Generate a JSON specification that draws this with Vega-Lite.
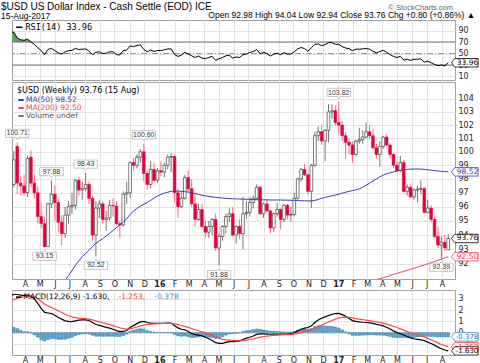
{
  "$schema": "https://vega.github.io/schema/vega-lite/v6.json",
  "padding": {"left": 1, "top": 1, "right": 0, "bottom": 0},
  "background": "white",
  "spacing": 0,
  "title": {
    "text": "$USD US Dollar Index - Cash Settle (EOD) ICE",
    "subtitle": "15-Aug-2017",
    "anchor": "start", "frame": "group", "dx": -11, "offset": -17,
    "font": "Liberation Sans", "fontSize": 10, "fontWeight": "normal", "color": "#000",
    "subtitleFont": "Liberation Sans", "subtitleFontSize": 8.5, "subtitleColor": "#000", "subtitlePadding": 0
  },
  "config": {
    "font": "DejaVu Sans",
    "view": {"stroke": "#a0a0a0"},
    "axis": {"labelFontSize": 8, "labelColor": "#222", "gridColor": "#e2e2e2", "domain": false, "ticks": false, "tickSize": 0, "title": null, "labelPadding": 3, "labelOverlap": false}
  },
  "datasets": {
    "w": [
      {"d":"2015-03-02","o":95.3,"h":97.7,"l":95.2,"c":97.6,"rsi":88,"macd":3.3,"sig":2.85,"hist":0.45},
      {"d":"2015-03-09","o":97.6,"h":100.05,"l":97.4,"c":99.4,"rsi":87,"macd":3.4,"sig":2.95,"hist":0.45},
      {"d":"2015-03-16","o":100.4,"h":100.71,"l":96.9,"c":97.7,"rsi":77,"macd":3.4,"sig":3.05,"hist":0.35},
      {"d":"2015-03-23","o":97.7,"h":98.2,"l":96.8,"c":97.5,"rsi":74,"macd":3.35,"sig":3.15,"hist":0.2},
      {"d":"2015-03-30","o":97.5,"h":98.3,"l":96.8,"c":97.0,"rsi":73,"macd":3.3,"sig":3.22,"hist":0.08},
      {"d":"2015-04-06","o":97.0,"h":99.7,"l":96.7,"c":99.5,"rsi":75,"macd":3.35,"sig":3.28,"hist":0.07},
      {"d":"2015-04-13","o":99.6,"h":100.1,"l":97.4,"c":97.7,"rsi":70,"macd":3.25,"sig":3.28,"hist":-0.03},
      {"d":"2015-04-20","o":97.7,"h":98.3,"l":96.6,"c":97.0,"rsi":66,"macd":3.0,"sig":3.2,"hist":-0.2},
      {"d":"2015-04-27","o":97.0,"h":97.4,"l":94.8,"c":95.3,"rsi":60,"macd":2.6,"sig":3.0,"hist":-0.4},
      {"d":"2015-05-04","o":95.3,"h":96.3,"l":94.5,"c":94.8,"rsi":55,"macd":2.15,"sig":2.8,"hist":-0.65},
      {"d":"2015-05-11","o":94.8,"h":95.3,"l":93.15,"c":93.2,"rsi":48,"macd":1.8,"sig":2.55,"hist":-0.75},
      {"d":"2015-05-18","o":93.2,"h":96.3,"l":93.2,"c":96.2,"rsi":57,"macd":1.75,"sig":2.38,"hist":-0.63},
      {"d":"2015-05-25","o":96.2,"h":97.88,"l":95.9,"c":96.9,"rsi":59,"macd":1.7,"sig":2.24,"hist":-0.54},
      {"d":"2015-06-01","o":96.9,"h":97.5,"l":95.0,"c":96.3,"rsi":55,"macd":1.55,"sig":2.1,"hist":-0.55},
      {"d":"2015-06-08","o":96.3,"h":96.5,"l":94.2,"c":94.9,"rsi":51,"macd":1.35,"sig":1.95,"hist":-0.6,"ma50":90.3},
      {"d":"2015-06-15","o":94.9,"h":95.4,"l":93.3,"c":94.1,"rsi":49,"macd":1.2,"sig":1.8,"hist":-0.6,"ma50":90.6},
      {"d":"2015-06-22","o":94.1,"h":96.0,"l":93.8,"c":95.4,"rsi":53,"macd":1.05,"sig":1.63,"hist":-0.58,"ma50":90.9},
      {"d":"2015-06-29","o":95.4,"h":96.4,"l":94.8,"c":96.0,"rsi":55,"macd":1.0,"sig":1.5,"hist":-0.5,"ma50":91.2},
      {"d":"2015-07-06","o":96.0,"h":97.0,"l":95.5,"c":96.1,"rsi":55.5,"macd":0.98,"sig":1.4,"hist":-0.42,"ma50":91.55},
      {"d":"2015-07-13","o":96.1,"h":98.0,"l":95.8,"c":97.9,"rsi":59,"macd":1.05,"sig":1.33,"hist":-0.28,"ma50":91.9},
      {"d":"2015-07-20","o":97.9,"h":98.15,"l":96.8,"c":97.2,"rsi":57,"macd":1.12,"sig":1.29,"hist":-0.17,"ma50":92.2},
      {"d":"2015-07-27","o":97.2,"h":97.8,"l":96.5,"c":97.3,"rsi":57.5,"macd":1.14,"sig":1.26,"hist":-0.12,"ma50":92.5},
      {"d":"2015-08-03","o":97.3,"h":98.43,"l":97.1,"c":97.6,"rsi":58,"macd":1.14,"sig":1.24,"hist":-0.1,"ma50":92.72},
      {"d":"2015-08-10","o":97.6,"h":97.8,"l":96.2,"c":96.6,"rsi":54,"macd":1.08,"sig":1.2,"hist":-0.12,"ma50":92.95},
      {"d":"2015-08-17","o":96.6,"h":96.8,"l":93.6,"c":94.0,"rsi":48,"macd":0.9,"sig":1.13,"hist":-0.23,"ma50":93.2},
      {"d":"2015-08-24","o":94.0,"h":96.4,"l":92.52,"c":95.9,"rsi":52,"macd":0.72,"sig":1.05,"hist":-0.33,"ma50":93.42},
      {"d":"2015-08-31","o":95.9,"h":96.5,"l":95.2,"c":96.2,"rsi":53,"macd":0.65,"sig":0.96,"hist":-0.31,"ma50":93.6},
      {"d":"2015-09-07","o":96.2,"h":96.4,"l":94.8,"c":95.1,"rsi":50,"macd":0.55,"sig":0.88,"hist":-0.33,"ma50":93.75},
      {"d":"2015-09-14","o":95.1,"h":95.7,"l":94.3,"c":95.2,"rsi":50.5,"macd":0.47,"sig":0.8,"hist":-0.33,"ma50":93.93},
      {"d":"2015-09-21","o":95.2,"h":96.5,"l":95.0,"c":96.1,"rsi":53,"macd":0.4,"sig":0.72,"hist":-0.32,"ma50":94.12},
      {"d":"2015-09-28","o":96.1,"h":96.6,"l":95.3,"c":96.05,"rsi":53,"macd":0.3,"sig":0.62,"hist":-0.32,"ma50":94.32},
      {"d":"2015-10-05","o":96.05,"h":96.4,"l":94.7,"c":94.8,"rsi":48,"macd":0.18,"sig":0.52,"hist":-0.34,"ma50":94.52},
      {"d":"2015-10-12","o":94.8,"h":95.0,"l":93.8,"c":94.7,"rsi":47.5,"macd":0.08,"sig":0.43,"hist":-0.35,"ma50":94.72},
      {"d":"2015-10-19","o":94.7,"h":97.1,"l":94.6,"c":96.9,"rsi":55,"macd":0.1,"sig":0.36,"hist":-0.26,"ma50":94.9},
      {"d":"2015-10-26","o":96.9,"h":97.8,"l":96.2,"c":97.0,"rsi":56,"macd":0.18,"sig":0.32,"hist":-0.14,"ma50":95.15},
      {"d":"2015-11-02","o":97.0,"h":99.3,"l":96.6,"c":99.2,"rsi":63,"macd":0.45,"sig":0.35,"hist":0.1,"ma50":95.45},
      {"d":"2015-11-09","o":99.2,"h":99.5,"l":98.6,"c":99.0,"rsi":62,"macd":0.62,"sig":0.41,"hist":0.21,"ma50":95.7},
      {"d":"2015-11-16","o":99.0,"h":99.8,"l":98.8,"c":99.6,"rsi":64,"macd":0.8,"sig":0.5,"hist":0.3,"ma50":95.88},
      {"d":"2015-11-23","o":99.6,"h":100.2,"l":99.2,"c":100.0,"rsi":65,"macd":0.95,"sig":0.6,"hist":0.35,"ma50":96.05},
      {"d":"2015-11-30","o":100.0,"h":100.6,"l":97.8,"c":98.4,"rsi":57,"macd":1.0,"sig":0.68,"hist":0.32,"ma50":96.17},
      {"d":"2015-12-07","o":98.4,"h":98.6,"l":97.2,"c":97.6,"rsi":53,"macd":0.9,"sig":0.73,"hist":0.17,"ma50":96.3},
      {"d":"2015-12-14","o":97.6,"h":99.3,"l":97.3,"c":98.7,"rsi":56,"macd":0.85,"sig":0.76,"hist":0.09,"ma50":96.45},
      {"d":"2015-12-21","o":98.7,"h":99.2,"l":97.8,"c":97.9,"rsi":53.5,"macd":0.83,"sig":0.78,"hist":0.05,"ma50":96.62},
      {"d":"2015-12-28","o":97.9,"h":98.8,"l":97.7,"c":98.6,"rsi":55.5,"macd":0.82,"sig":0.8,"hist":0.02,"ma50":96.77},
      {"d":"2016-01-04","o":98.6,"h":99.3,"l":98.2,"c":98.5,"rsi":55,"macd":0.82,"sig":0.8,"hist":0.02,"ma50":96.88},
      {"d":"2016-01-11","o":98.5,"h":99.2,"l":98.1,"c":99.0,"rsi":56.5,"macd":0.83,"sig":0.81,"hist":0.02,"ma50":96.97},
      {"d":"2016-01-18","o":99.0,"h":99.8,"l":98.7,"c":99.6,"rsi":58,"macd":0.85,"sig":0.82,"hist":0.03,"ma50":97.04},
      {"d":"2016-01-25","o":99.6,"h":99.9,"l":98.5,"c":99.65,"rsi":58,"macd":0.85,"sig":0.82,"hist":0.03,"ma50":97.1},
      {"d":"2016-02-01","o":99.65,"h":99.8,"l":96.3,"c":97.0,"rsi":48,"macd":0.62,"sig":0.78,"hist":-0.16,"ma50":97.12},
      {"d":"2016-02-08","o":97.0,"h":97.3,"l":95.2,"c":96.0,"rsi":45,"macd":0.42,"sig":0.71,"hist":-0.29,"ma50":97.12},
      {"d":"2016-02-15","o":96.0,"h":97.1,"l":95.9,"c":96.6,"rsi":47,"macd":0.3,"sig":0.63,"hist":-0.33,"ma50":97.1},
      {"d":"2016-02-22","o":96.6,"h":98.3,"l":96.5,"c":98.1,"rsi":52,"macd":0.25,"sig":0.56,"hist":-0.31,"ma50":97.08},
      {"d":"2016-02-29","o":98.1,"h":98.6,"l":97.1,"c":97.3,"rsi":49,"macd":0.1,"sig":0.47,"hist":-0.37,"ma50":97.05},
      {"d":"2016-03-07","o":97.3,"h":98.0,"l":96.0,"c":96.2,"rsi":46,"macd":-0.08,"sig":0.36,"hist":-0.44,"ma50":97.0},
      {"d":"2016-03-14","o":96.2,"h":97.0,"l":94.6,"c":95.1,"rsi":43,"macd":-0.18,"sig":0.25,"hist":-0.43,"ma50":96.95},
      {"d":"2016-03-21","o":95.1,"h":96.2,"l":95.0,"c":95.8,"rsi":45.5,"macd":-0.22,"sig":0.16,"hist":-0.38,"ma50":96.88},
      {"d":"2016-03-28","o":95.8,"h":96.2,"l":94.5,"c":94.6,"rsi":42,"macd":-0.28,"sig":0.07,"hist":-0.35,"ma50":96.82},
      {"d":"2016-04-04","o":94.6,"h":95.0,"l":93.8,"c":94.2,"rsi":41,"macd":-0.42,"sig":-0.03,"hist":-0.39,"ma50":96.78},
      {"d":"2016-04-11","o":94.2,"h":95.0,"l":93.8,"c":94.6,"rsi":43,"macd":-0.55,"sig":-0.14,"hist":-0.41,"ma50":96.74},
      {"d":"2016-04-18","o":94.6,"h":95.2,"l":94.0,"c":95.1,"rsi":45,"macd":-0.7,"sig":-0.25,"hist":-0.45,"ma50":96.7},
      {"d":"2016-04-25","o":95.1,"h":95.5,"l":92.9,"c":93.1,"rsi":38,"macd":-0.9,"sig":-0.38,"hist":-0.52,"ma50":96.67},
      {"d":"2016-05-02","o":93.1,"h":94.1,"l":91.88,"c":93.9,"rsi":41,"macd":-0.96,"sig":-0.5,"hist":-0.46,"ma50":96.64},
      {"d":"2016-05-09","o":93.9,"h":94.7,"l":93.6,"c":94.6,"rsi":43,"macd":-0.96,"sig":-0.59,"hist":-0.37,"ma50":96.62},
      {"d":"2016-05-16","o":94.6,"h":95.5,"l":94.1,"c":95.3,"rsi":46,"macd":-0.88,"sig":-0.65,"hist":-0.23,"ma50":96.6},
      {"d":"2016-05-23","o":95.3,"h":95.9,"l":94.9,"c":95.5,"rsi":47,"macd":-0.8,"sig":-0.68,"hist":-0.12,"ma50":96.58},
      {"d":"2016-05-30","o":95.5,"h":96.0,"l":93.9,"c":94.0,"rsi":42,"macd":-0.8,"sig":-0.71,"hist":-0.09,"ma50":96.57},
      {"d":"2016-06-06","o":94.0,"h":94.7,"l":93.4,"c":94.6,"rsi":44,"macd":-0.78,"sig":-0.72,"hist":-0.06,"ma50":96.56},
      {"d":"2016-06-13","o":94.6,"h":95.1,"l":93.7,"c":94.1,"rsi":43,"macd":-0.74,"sig":-0.73,"hist":-0.01,"ma50":96.55},
      {"d":"2016-06-20","o":94.1,"h":96.7,"l":93.0,"c":95.5,"rsi":48,"macd":-0.62,"sig":-0.71,"hist":0.09,"ma50":96.54},
      {"d":"2016-06-27","o":95.5,"h":96.4,"l":95.1,"c":95.6,"rsi":49,"macd":-0.5,"sig":-0.67,"hist":0.17,"ma50":96.53},
      {"d":"2016-07-04","o":95.6,"h":96.7,"l":95.3,"c":96.3,"rsi":52,"macd":-0.42,"sig":-0.62,"hist":0.2,"ma50":96.52},
      {"d":"2016-07-11","o":96.3,"h":96.8,"l":95.9,"c":96.6,"rsi":53.5,"macd":-0.3,"sig":-0.56,"hist":0.26,"ma50":96.51},
      {"d":"2016-07-18","o":96.6,"h":97.6,"l":96.5,"c":97.4,"rsi":57,"macd":-0.16,"sig":-0.48,"hist":0.32,"ma50":96.5},
      {"d":"2016-07-25","o":97.4,"h":97.5,"l":95.4,"c":95.5,"rsi":49.5,"macd":-0.12,"sig":-0.41,"hist":0.29,"ma50":96.5},
      {"d":"2016-08-01","o":95.5,"h":96.3,"l":95.2,"c":96.2,"rsi":52,"macd":-0.12,"sig":-0.35,"hist":0.23,"ma50":96.49},
      {"d":"2016-08-08","o":96.2,"h":96.5,"l":95.6,"c":95.7,"rsi":50,"macd":-0.13,"sig":-0.31,"hist":0.18,"ma50":96.49},
      {"d":"2016-08-15","o":95.7,"h":95.8,"l":94.1,"c":94.5,"rsi":45.5,"macd":-0.15,"sig":-0.28,"hist":0.13,"ma50":96.48},
      {"d":"2016-08-22","o":94.5,"h":95.6,"l":94.2,"c":95.5,"rsi":49,"macd":-0.14,"sig":-0.25,"hist":0.11,"ma50":96.48},
      {"d":"2016-08-29","o":95.5,"h":96.3,"l":95.3,"c":95.8,"rsi":50.5,"macd":-0.13,"sig":-0.23,"hist":0.1,"ma50":96.48},
      {"d":"2016-09-05","o":95.8,"h":95.9,"l":94.4,"c":95.1,"rsi":48,"macd":-0.14,"sig":-0.21,"hist":0.07,"ma50":96.48},
      {"d":"2016-09-12","o":95.1,"h":96.2,"l":94.9,"c":96.1,"rsi":51.5,"macd":-0.13,"sig":-0.19,"hist":0.06,"ma50":96.47},
      {"d":"2016-09-19","o":96.1,"h":96.2,"l":95.1,"c":95.4,"rsi":49,"macd":-0.13,"sig":-0.18,"hist":0.05,"ma50":96.47},
      {"d":"2016-09-26","o":95.4,"h":96.0,"l":94.9,"c":95.45,"rsi":49,"macd":-0.1,"sig":-0.16,"hist":0.06,"ma50":96.46},
      {"d":"2016-10-03","o":95.45,"h":97.0,"l":95.3,"c":96.6,"rsi":53,"macd":-0.02,"sig":-0.13,"hist":0.11,"ma50":96.45},
      {"d":"2016-10-10","o":96.6,"h":98.1,"l":96.5,"c":98.0,"rsi":58,"macd":0.15,"sig":-0.07,"hist":0.22,"ma50":96.44},
      {"d":"2016-10-17","o":98.0,"h":98.8,"l":97.8,"c":98.7,"rsi":60.5,"macd":0.3,"sig":0.0,"hist":0.3,"ma50":96.43},
      {"d":"2016-10-24","o":98.7,"h":99.1,"l":98.2,"c":98.3,"rsi":58.5,"macd":0.4,"sig":0.08,"hist":0.32,"ma50":96.42},
      {"d":"2016-10-31","o":98.3,"h":98.4,"l":96.9,"c":97.1,"rsi":54,"macd":0.45,"sig":0.15,"hist":0.3,"ma50":96.41},
      {"d":"2016-11-07","o":97.1,"h":99.1,"l":95.9,"c":99.0,"rsi":60,"macd":0.6,"sig":0.24,"hist":0.36,"ma50":96.41},
      {"d":"2016-11-14","o":99.0,"h":101.5,"l":98.9,"c":101.2,"rsi":66,"macd":0.9,"sig":0.37,"hist":0.53,"ma50":96.45},
      {"d":"2016-11-21","o":101.2,"h":101.9,"l":100.8,"c":101.5,"rsi":66.5,"macd":1.12,"sig":0.52,"hist":0.6,"ma50":96.52},
      {"d":"2016-11-28","o":101.5,"h":102.0,"l":100.5,"c":100.8,"rsi":63.5,"macd":1.28,"sig":0.67,"hist":0.61,"ma50":96.6},
      {"d":"2016-12-05","o":100.8,"h":101.7,"l":99.3,"c":101.6,"rsi":65.5,"macd":1.4,"sig":0.81,"hist":0.59,"ma50":96.66},
      {"d":"2016-12-12","o":101.6,"h":103.6,"l":100.7,"c":103.0,"rsi":69,"macd":1.52,"sig":0.95,"hist":0.57,"ma50":96.72},
      {"d":"2016-12-19","o":103.0,"h":103.6,"l":102.5,"c":103.1,"rsi":69,"macd":1.62,"sig":1.08,"hist":0.54,"ma50":96.78},
      {"d":"2016-12-26","o":103.1,"h":103.5,"l":102.0,"c":102.2,"rsi":66,"macd":1.7,"sig":1.2,"hist":0.5,"ma50":96.84},
      {"d":"2017-01-02","o":102.2,"h":103.82,"l":101.4,"c":102.0,"rsi":66,"macd":1.71,"sig":1.3,"hist":0.41,"ma50":96.9},
      {"d":"2017-01-09","o":102.0,"h":102.3,"l":100.8,"c":101.2,"rsi":62,"macd":1.6,"sig":1.36,"hist":0.24,"ma50":96.97},
      {"d":"2017-01-16","o":101.2,"h":101.5,"l":99.5,"c":100.7,"rsi":59.5,"macd":1.45,"sig":1.38,"hist":0.07,"ma50":97.04},
      {"d":"2017-01-23","o":100.7,"h":101.0,"l":99.8,"c":100.5,"rsi":58.5,"macd":1.25,"sig":1.36,"hist":-0.11,"ma50":97.1},
      {"d":"2017-01-30","o":100.5,"h":100.8,"l":99.2,"c":99.8,"rsi":55,"macd":1.07,"sig":1.31,"hist":-0.24,"ma50":97.15},
      {"d":"2017-02-06","o":99.8,"h":100.9,"l":99.7,"c":100.8,"rsi":57.5,"macd":1.0,"sig":1.25,"hist":-0.25,"ma50":97.2},
      {"d":"2017-02-13","o":100.8,"h":101.8,"l":100.6,"c":100.9,"rsi":57.5,"macd":0.95,"sig":1.2,"hist":-0.25,"ma50":97.28},
      {"d":"2017-02-20","o":100.9,"h":101.6,"l":100.6,"c":101.1,"rsi":58,"macd":0.92,"sig":1.15,"hist":-0.23,"ma50":97.4},
      {"d":"2017-02-27","o":101.1,"h":102.2,"l":101.0,"c":101.5,"rsi":59,"macd":0.9,"sig":1.11,"hist":-0.21,"ma50":97.55},
      {"d":"2017-03-06","o":101.5,"h":102.0,"l":101.0,"c":101.2,"rsi":57.5,"macd":0.86,"sig":1.06,"hist":-0.2,"ma50":97.68},
      {"d":"2017-03-13","o":101.2,"h":101.7,"l":100.2,"c":100.3,"rsi":54,"macd":0.82,"sig":1.01,"hist":-0.19,"ma50":97.85,"ma200":90.86},
      {"d":"2017-03-20","o":100.3,"h":100.6,"l":99.5,"c":99.8,"rsi":51,"macd":0.74,"sig":0.96,"hist":-0.22,"ma50":98.0,"ma200":90.93},
      {"d":"2017-03-27","o":99.8,"h":100.8,"l":98.9,"c":100.4,"rsi":53.5,"macd":0.68,"sig":0.9,"hist":-0.22,"ma50":98.15,"ma200":91.0},
      {"d":"2017-04-03","o":100.4,"h":101.2,"l":100.2,"c":101.1,"rsi":55.5,"macd":0.6,"sig":0.84,"hist":-0.24,"ma50":98.28,"ma200":91.07},
      {"d":"2017-04-10","o":101.1,"h":101.3,"l":100.4,"c":100.5,"rsi":52,"macd":0.48,"sig":0.76,"hist":-0.28,"ma50":98.38,"ma200":91.14},
      {"d":"2017-04-17","o":100.5,"h":100.7,"l":99.5,"c":99.8,"rsi":48,"macd":0.32,"sig":0.67,"hist":-0.35,"ma50":98.45,"ma200":91.21},
      {"d":"2017-04-24","o":99.8,"h":99.9,"l":98.8,"c":99.0,"rsi":45,"macd":0.15,"sig":0.57,"hist":-0.42,"ma50":98.52,"ma200":91.29},
      {"d":"2017-05-01","o":99.0,"h":99.3,"l":98.5,"c":98.6,"rsi":43,"macd":0.0,"sig":0.45,"hist":-0.45,"ma50":98.58,"ma200":91.36},
      {"d":"2017-05-08","o":98.6,"h":99.7,"l":98.5,"c":99.2,"rsi":45,"macd":-0.1,"sig":0.34,"hist":-0.44,"ma50":98.63,"ma200":91.43},
      {"d":"2017-05-15","o":99.2,"h":99.4,"l":97.0,"c":97.1,"rsi":38.5,"macd":-0.22,"sig":0.22,"hist":-0.44,"ma50":98.67,"ma200":91.5},
      {"d":"2017-05-22","o":97.1,"h":97.6,"l":96.8,"c":97.4,"rsi":40,"macd":-0.35,"sig":0.1,"hist":-0.45,"ma50":98.7,"ma200":91.57},
      {"d":"2017-05-29","o":97.4,"h":97.6,"l":96.6,"c":96.7,"rsi":38,"macd":-0.47,"sig":-0.02,"hist":-0.45,"ma50":98.72,"ma200":91.64},
      {"d":"2017-06-05","o":96.7,"h":97.3,"l":96.5,"c":97.2,"rsi":40,"macd":-0.55,"sig":-0.12,"hist":-0.43,"ma50":98.73,"ma200":91.71},
      {"d":"2017-06-12","o":97.2,"h":97.5,"l":96.3,"c":97.25,"rsi":40,"macd":-0.6,"sig":-0.22,"hist":-0.38,"ma50":98.73,"ma200":91.79},
      {"d":"2017-06-19","o":97.25,"h":97.9,"l":96.9,"c":97.3,"rsi":40.5,"macd":-0.65,"sig":-0.31,"hist":-0.34,"ma50":98.72,"ma200":91.86},
      {"d":"2017-06-26","o":97.3,"h":97.4,"l":95.5,"c":95.6,"rsi":35,"macd":-0.72,"sig":-0.39,"hist":-0.33,"ma50":98.7,"ma200":91.93},
      {"d":"2017-07-03","o":95.6,"h":96.5,"l":95.5,"c":95.9,"rsi":36.5,"macd":-0.85,"sig":-0.52,"hist":-0.33,"ma50":98.67,"ma200":92.01},
      {"d":"2017-07-10","o":95.9,"h":96.1,"l":94.9,"c":95.1,"rsi":34,"macd":-0.98,"sig":-0.64,"hist":-0.34,"ma50":98.64,"ma200":92.09},
      {"d":"2017-07-17","o":95.1,"h":95.3,"l":93.8,"c":93.9,"rsi":31,"macd":-1.12,"sig":-0.77,"hist":-0.35,"ma50":98.61,"ma200":92.17},
      {"d":"2017-07-24","o":93.9,"h":94.6,"l":93.1,"c":93.3,"rsi":29,"macd":-1.3,"sig":-0.92,"hist":-0.38,"ma50":98.58,"ma200":92.25},
      {"d":"2017-07-31","o":93.3,"h":93.9,"l":92.39,"c":93.5,"rsi":30,"macd":-1.44,"sig":-1.06,"hist":-0.38,"ma50":98.56,"ma200":92.33},
      {"d":"2017-08-07","o":93.5,"h":94.0,"l":92.9,"c":93.1,"rsi":28.5,"macd":-1.55,"sig":-1.17,"hist":-0.38,"ma50":98.54,"ma200":92.42},
      {"d":"2017-08-14","o":92.98,"h":94.04,"l":92.94,"c":93.76,"rsi":33.96,"macd":-1.63,"sig":-1.253,"hist":-0.378,"ma50":98.52,"ma200":92.5}
    ],
    "highs": [
      {"d":"2015-03-16","v":100.71,"t":"100.71"},
      {"d":"2015-05-25","v":97.88,"t":"97.88"},
      {"d":"2015-08-03","v":98.43,"t":"98.43"},
      {"d":"2015-11-30","v":100.6,"t":"100.60"},
      {"d":"2017-01-02","v":103.82,"t":"103.82"}
    ],
    "lows": [
      {"d":"2015-05-11","v":93.15,"t":"93.15"},
      {"d":"2015-08-24","v":92.52,"t":"92.52"},
      {"d":"2016-05-02","v":91.88,"t":"91.88"},
      {"d":"2017-07-31","v":92.39,"t":"92.39"}
    ]
  },
  "vconcat": [
    {
      "title": {
        "text": "Open 92.98  High 94.04  Low 92.94  Close 93.76  Chg +0.80 (+0.86%) ▲",
        "anchor": "end", "frame": "bounds", "dx": -5, "offset": -16,
        "font": "Liberation Sans", "fontSize": 8.5, "fontWeight": "normal", "color": "#000"
      },
      "vconcat": [
        {
          "width": 443, "height": 60,
          "title": {
            "text": "© StockCharts.com",
            "anchor": "end", "frame": "group", "dx": -2, "offset": 9,
            "font": "Liberation Sans", "fontSize": 7.5, "fontWeight": "normal", "color": "#666"
          },
          "layer": [
            {
              "data": {"name": "w"},
              "transform": [{"filter": "datum.rsi >= 70"}],
              "mark": {"type": "area", "color": "#5f9f5f", "clip": true},
              "encoding": {
                "x": {"field": "d", "type": "temporal",
                      "scale": {"domain": [{"year": 2015, "month": 3, "date": 5, "hours": 6, "minutes": 30}, {"year": 2017, "month": 8, "date": 27, "hours": 21}], "padding": 0},
                      "axis": {"labels": false, "grid": true, "tickCount": {"interval": "month", "step": 1}}},
                "y": {"field": "rsi", "type": "quantitative", "scale": {"domain": [3.9, 108.3], "nice": false, "zero": false},
                      "axis": {"orient": "right", "values": [10, 30, 50, 70, 90], "tickCount": 10, "format": "d", "grid": true, "labelOverlap": false}},
                "y2": {"datum": 70}
              }
            },
            {
              "data": {"name": "w"},
              "transform": [{"filter": "datum.rsi <= 30"}],
              "mark": {"type": "area", "color": "#e0606e", "clip": true},
              "encoding": {
                "x": {"field": "d", "type": "temporal"},
                "y": {"field": "rsi", "type": "quantitative"},
                "y2": {"datum": 30}
              }
            },
            {
              "data": {"values": [{"rsi": 30}, {"rsi": 70}]},
              "mark": {"type": "rule", "color": "#777", "strokeWidth": 1},
              "encoding": {"y": {"field": "rsi", "type": "quantitative"}}
            },
            {
              "data": {"values": [{"rsi": 50}]},
              "mark": {"type": "rule", "color": "#999", "strokeDash": [6, 2, 1, 2]},
              "encoding": {"y": {"field": "rsi", "type": "quantitative"}}
            },
            {
              "data": {"name": "w"},
              "mark": {"type": "line", "strokeWidth": 1, "clip": true},
              "encoding": {
                "x": {"field": "d", "type": "temporal"},
                "y": {"field": "rsi", "type": "quantitative"},
                "color": {"datum": "rsi", "scale": {"domain": ["rsi"], "range": ["#000000"]},
                          "legend": {"orient": "top-left", "title": null, "labelExpr": "'RSI(14) 33.96'", "symbolType": "stroke", "symbolSize": 40, "symbolStrokeWidth": 1.5, "labelFont": "DejaVu Sans Mono", "labelFontSize": 8.5, "labelColor": "#000", "offset": 2, "padding": 1, "labelOffset": 2}}
              }
            },
            {
              "data": {"values": [{"rsi": 33.96, "t": "33.96"}]},
              "mark": {"type": "point", "shape": "M0.5,0L1,-0.65L4.6,-0.65L4.6,0.65L1,0.65Z", "size": 169, "filled": true, "fill": "white", "stroke": "#000", "strokeWidth": 0.8, "opacity": 1},
              "encoding": {"x": {"datum": {"year": 2017, "month": 8, "date": 14}, "type": "temporal"}, "y": {"field": "rsi", "type": "quantitative"}}
            },
            {
              "data": {"values": [{"rsi": 33.96, "t": "33.96"}]},
              "mark": {"type": "text", "align": "left", "baseline": "middle", "dx": 8.5, "fontSize": 7.5, "color": "#000"},
              "encoding": {"x": {"datum": {"year": 2017, "month": 8, "date": 14}, "type": "temporal"}, "y": {"field": "rsi", "type": "quantitative"}, "text": {"field": "t"}}
            }
          ]
        }
      ]
    },
    {
      "width": 443, "height": 197,
      "layer": [
        {
          "data": {"name": "w"},
          "mark": {"type": "rule", "strokeWidth": 1, "clip": true},
          "encoding": {
            "x": {"field": "d", "type": "temporal",
                  "scale": {"domain": [{"year": 2015, "month": 3, "date": 5, "hours": 6, "minutes": 30}, {"year": 2017, "month": 8, "date": 27, "hours": 21}], "padding": 0},
                  "axis": {"orient": "bottom", "grid": true, "tickCount": {"interval": "month", "step": 1}, "labelPadding": 1, "labelFlush": false, "labelOverlap": false,
                           "labelExpr": "month(datum.value) == 0 ? timeFormat(datum.value, '%y') : substring(timeFormat(datum.value, '%b'), 0, 1)",
                           "labelFontWeight": {"condition": {"test": "month(datum.value) == 0", "value": "bold"}, "value": "normal"}}},
            "y": {"field": "l", "type": "quantitative", "scale": {"type": "log", "domain": [90.98, 105.32], "nice": false},
                  "axis": {"orient": "right", "values": [92, 93, 94, 95, 96, 97, 98, 99, 100, 101, 102, 103, 104], "tickCount": 20, "format": "d", "grid": true, "labelOverlap": false}},
            "y2": {"field": "h"},
            "color": {"condition": {"test": "datum.c >= datum.o", "value": "#777777"}, "value": "#f0708a"}
          }
        },
        {
          "data": {"name": "w"},
          "mark": {"type": "bar", "width": 2.7, "strokeWidth": 0.6, "clip": true},
          "encoding": {
            "x": {"field": "d", "type": "temporal"},
            "y": {"field": "o", "type": "quantitative"},
            "y2": {"field": "c"},
            "fill": {"condition": {"test": "datum.c >= datum.o", "value": "#ffffff"}, "value": "#e4003c"},
            "stroke": {"condition": {"test": "datum.c >= datum.o", "value": "#222222"}, "value": "#e4003c"}
          }
        },
        {
          "data": {"name": "w"},
          "transform": [{"fold": ["ma50", "ma200"], "as": ["key", "val"]}, {"filter": "isValid(datum.val)"}],
          "mark": {"type": "line", "strokeWidth": 1, "clip": true},
          "encoding": {
            "x": {"field": "d", "type": "temporal"},
            "y": {"field": "val", "type": "quantitative"},
            "color": {"field": "key", "type": "nominal",
                      "scale": {"domain": ["ma50", "ma200", "vol"], "range": ["#3b3bb0", "#e8425e", "#777777"]},
                      "legend": {"orient": "top-left", "title": "$USD (Weekly) 93.76 (15 Aug)", "titleFont": "DejaVu Sans", "titleFontSize": 8, "titleFontWeight": "normal", "titleColor": "#000", "titlePadding": 1,
                                 "labelExpr": "datum.value === 'ma50' ? 'MA(50) 98.52' : datum.value === 'ma200' ? 'MA(200) 92.50' : 'Volume undef'",
                                 "symbolType": "stroke", "symbolSize": 30, "symbolStrokeWidth": 2, "labelFontSize": 7.5, "labelOffset": 1, "rowPadding": 0, "offset": 4, "padding": 1,
                                 "encode": {"labels": {"update": {"fill": {"signal": "datum.value === 'ma50' ? '#3b3bb0' : datum.value === 'ma200' ? '#e8425e' : '#555555'"}}}}}}
          }
        },
        {
          "data": {"name": "highs"},
          "mark": {"type": "point", "shape": "M-1.8,-2L1.8,-2L1.8,-0.75L0.2,-0.75L0,-0.45L-0.2,-0.75L-1.8,-0.75Z", "size": 169, "filled": true, "fill": "white", "stroke": "#aaaaaa", "strokeWidth": 0.7, "opacity": 1},
          "encoding": {"x": {"field": "d", "type": "temporal"}, "y": {"field": "v", "type": "quantitative"}}
        },
        {
          "data": {"name": "highs"},
          "mark": {"type": "text", "baseline": "middle", "dy": -8.8, "font": "Liberation Sans", "fontSize": 7, "color": "#333"},
          "encoding": {"x": {"field": "d", "type": "temporal"}, "y": {"field": "v", "type": "quantitative"}, "text": {"field": "t"}}
        },
        {
          "data": {"name": "lows"},
          "mark": {"type": "point", "shape": "M-1.8,2L1.8,2L1.8,0.75L0.2,0.75L0,0.45L-0.2,0.75L-1.8,0.75Z", "size": 169, "filled": true, "fill": "white", "stroke": "#aaaaaa", "strokeWidth": 0.7, "opacity": 1},
          "encoding": {"x": {"field": "d", "type": "temporal"}, "y": {"field": "v", "type": "quantitative"}}
        },
        {
          "data": {"name": "lows"},
          "mark": {"type": "text", "baseline": "middle", "dy": 8.8, "font": "Liberation Sans", "fontSize": 7, "color": "#333"},
          "encoding": {"x": {"field": "d", "type": "temporal"}, "y": {"field": "v", "type": "quantitative"}, "text": {"field": "t"}}
        },
        {
          "data": {"values": [{"v": 98.52, "t": "98.52", "s": "ma50"}, {"v": 93.76, "t": "93.76", "s": "px"}, {"v": 92.5, "t": "92.50", "s": "ma200"}]},
          "mark": {"type": "point", "shape": "M0.5,0L1,-0.65L4.6,-0.65L4.6,0.65L1,0.65Z", "size": 169, "filled": true, "fill": "white", "strokeWidth": 0.8, "opacity": 1},
          "encoding": {
            "x": {"datum": {"year": 2017, "month": 8, "date": 14}, "type": "temporal"},
            "y": {"field": "v", "type": "quantitative"},
            "stroke": {"condition": [{"test": "datum.s === 'ma50'", "value": "#3b3bb0"}, {"test": "datum.s === 'ma200'", "value": "#e8425e"}], "value": "#000000"}
          }
        },
        {
          "data": {"values": [{"v": 98.52, "t": "98.52", "s": "ma50"}, {"v": 93.76, "t": "93.76", "s": "px"}, {"v": 92.5, "t": "92.50", "s": "ma200"}]},
          "mark": {"type": "text", "align": "left", "baseline": "middle", "dx": 8.5, "fontSize": 7.5},
          "encoding": {
            "x": {"datum": {"year": 2017, "month": 8, "date": 14}, "type": "temporal"},
            "y": {"field": "v", "type": "quantitative"},
            "text": {"field": "t"},
            "color": {"condition": [{"test": "datum.s === 'ma50'", "value": "#3b3bb0"}, {"test": "datum.s === 'ma200'", "value": "#e8425e"}], "value": "#000000"}
          }
        }
      ]
    },
    {
      "width": 443, "height": 65,
      "layer": [
        {
          "data": {"name": "w"},
          "mark": {"type": "bar", "width": 2.7, "stroke": "#2e6c99", "strokeWidth": 0.5, "clip": true},
          "encoding": {
            "x": {"field": "d", "type": "temporal",
                  "scale": {"domain": [{"year": 2015, "month": 3, "date": 5, "hours": 6, "minutes": 30}, {"year": 2017, "month": 8, "date": 27, "hours": 21}], "padding": 0},
                  "axis": {"orient": "bottom", "grid": true, "tickCount": {"interval": "month", "step": 1}, "labelPadding": 1, "labelFlush": false, "labelOverlap": false,
                           "labelExpr": "month(datum.value) == 0 ? timeFormat(datum.value, '%y') : substring(timeFormat(datum.value, '%b'), 0, 1)",
                           "labelFontWeight": {"condition": {"test": "month(datum.value) == 0", "value": "bold"}, "value": "normal"}}},
            "y": {"field": "hist", "type": "quantitative", "scale": {"domain": [-2.0, 3.8], "nice": false, "zero": false},
                  "axis": {"orient": "right", "values": [-1, 0, 1, 2, 3], "tickCount": 10, "format": "d", "grid": true, "labelOverlap": false}},
            "y2": {"datum": 0},
            "color": {"datum": "hist"}
          }
        },
        {
          "data": {"name": "w"},
          "transform": [{"fold": ["macd", "sig"], "as": ["key", "hist"]}],
          "mark": {"type": "line", "strokeWidth": 1.2, "clip": true},
          "encoding": {
            "x": {"field": "d", "type": "temporal"},
            "y": {"field": "hist", "type": "quantitative"},
            "color": {"field": "key", "type": "nominal",
                      "scale": {"domain": ["macd", "sig", "hist"], "range": ["#000000", "#ff4444", "#5ea9da"]},
                      "legend": {"orient": "top-left", "direction": "horizontal", "title": null,
                                 "labelExpr": "datum.value === 'macd' ? 'MACD(12,26,9) -1.630,' : datum.value === 'sig' ? '-1.253,' : '-0.378'",
                                 "symbolType": "stroke", "symbolSize": 30, "symbolStrokeWidth": 1.5, "labelFontSize": 7.5, "labelOffset": 1, "columnPadding": -6, "offset": 2, "padding": 1,
                                 "encode": {"symbols": {"update": {"opacity": {"signal": "datum.value === 'macd' ? 1 : 0"}}},
                                            "labels": {"update": {"fill": {"signal": "datum.value === 'macd' ? '#000000' : datum.value === 'sig' ? '#ff3333' : '#3399cc'"}}}}}}
          }
        },
        {
          "data": {"values": [{"hist": -0.378, "t": "-0.378", "s": "hist"}, {"hist": -1.253, "t": "-1.253", "s": "sig"}, {"hist": -1.63, "t": "-1.630", "s": "macd"}]},
          "mark": {"type": "point", "shape": "M0.5,0L1,-0.65L4.6,-0.65L4.6,0.65L1,0.65Z", "size": 169, "filled": true, "fill": "white", "strokeWidth": 0.8, "opacity": 1},
          "encoding": {
            "x": {"datum": {"year": 2017, "month": 8, "date": 14}, "type": "temporal"},
            "y": {"field": "hist", "type": "quantitative"},
            "stroke": {"condition": [{"test": "datum.s === 'hist'", "value": "#3a8fc8"}, {"test": "datum.s === 'sig'", "value": "#ff3333"}], "value": "#000000"}
          }
        },
        {
          "data": {"values": [{"hist": -0.378, "t": "-0.378", "s": "hist"}, {"hist": -1.253, "t": "-1.253", "s": "sig"}, {"hist": -1.63, "t": "-1.630", "s": "macd"}]},
          "mark": {"type": "text", "align": "left", "baseline": "middle", "dx": 7.5, "fontSize": 7},
          "encoding": {
            "x": {"datum": {"year": 2017, "month": 8, "date": 14}, "type": "temporal"},
            "y": {"field": "hist", "type": "quantitative"},
            "text": {"field": "t"},
            "color": {"condition": [{"test": "datum.s === 'hist'", "value": "#1f6fa8"}, {"test": "datum.s === 'sig'", "value": "#ff3333"}], "value": "#000000"}
          }
        }
      ]
    }
  ],
  "resolve": {"scale": {"color": "independent"}, "legend": {"color": "independent"}}
}
